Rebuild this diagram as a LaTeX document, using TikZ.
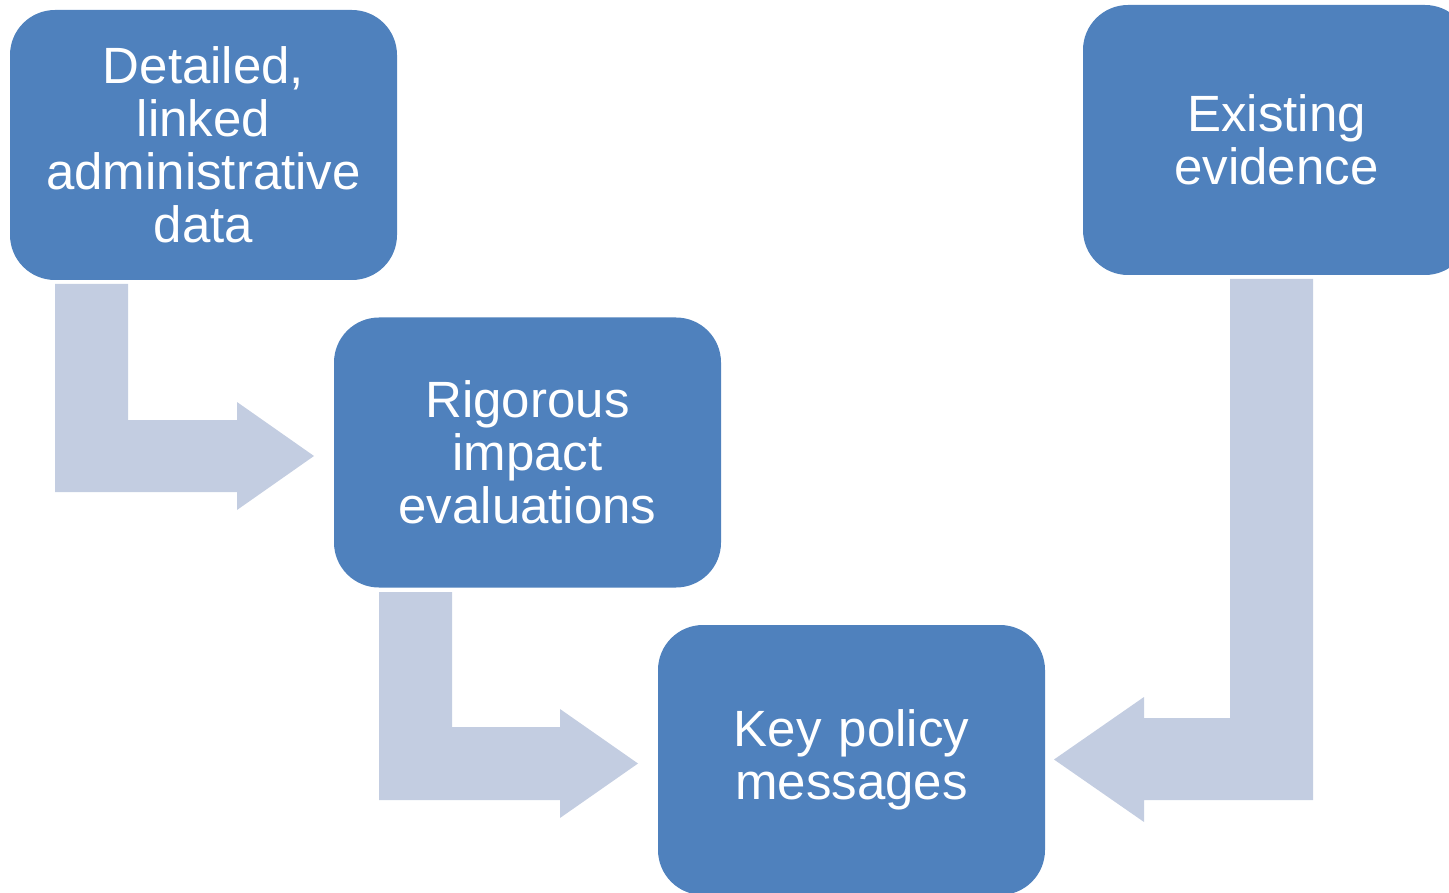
\documentclass[tikz,border=0pt]{standalone}
\usepackage{fontspec}
\setmainfont{Liberation Sans}
\begin{document}
\begin{tikzpicture}[x=1pt,y=-1pt,
  stage/.style={fill=stageblue, draw=none, rounded corners=45pt,
    minimum width=387pt, minimum height=270pt, inner sep=0pt,
    text=white, align=center, text width=360pt,
    font=\fontsize{51}{53}\selectfont},
  bentarrow/.style={fill=flowgrey, draw=none}]
\definecolor{stageblue}{HTML}{4F81BD}
\definecolor{flowgrey}{HTML}{C3CDE1}
\useasboundingbox (0,0) rectangle (1449,893);
\clip (0,0) rectangle (1449,893);

% stages
\node[stage] (data) at (203.5,145) {Detailed,\\linked\\administrative\\data};
\node[stage] (eval) at (527.5,452.5) {Rigorous\\impact\\evaluations};
\node[stage] (msg) at (851.5,760) {Key policy\\messages};
\node[stage] (evid) at (1276.5,140) {Existing\\evidence};

% bent block arrows between the stages
\coordinate (a1) at (55,284);
\coordinate (a2) at (379,592);
\coordinate (a3) at (1313,279);
\path[bentarrow] (a1) -- (128,284) -- (128,420) -- (237,420) -- (237,402)
  -- (314,456) -- (237,510) -- (237,492) -- (55,492) -- cycle;
\path[bentarrow] (a2) -- (452,592) -- (452,727) -- (560,727) -- (560,709)
  -- (638,763.5) -- (560,818) -- (560,800) -- (379,800) -- cycle;
\path[bentarrow] (a3) -- (1313,800) -- (1144,800) -- (1144,822)
  -- (1054,759.5) -- (1144,697) -- (1144,718) -- (1230,718) -- (1230,279) -- cycle;
\end{tikzpicture}
\end{document}
